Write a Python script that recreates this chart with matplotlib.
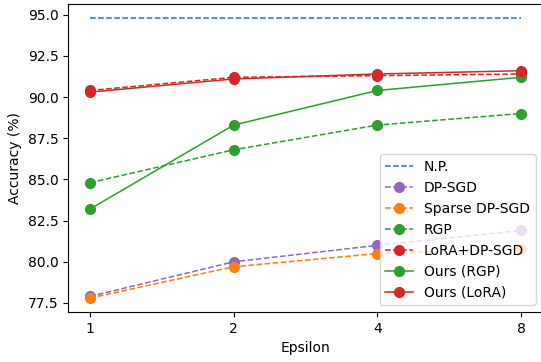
import matplotlib.pyplot as plt

epsilons = ["1", "2", "4", "8"]

np_acc = [94.8, 94.8, 94.8, 94.8]
dp_sgd = [77.9, 80.0, 81.0, 81.9]
sparse_dp_sgd = [77.8, 79.7, 80.5, 80.8]
rgp = [84.8, 86.8, 88.3, 89.0]
lora_dp_sgd = [90.4, 91.2, 91.3, 91.4]
ours_rgp = [83.2, 88.3, 90.4, 91.2]
ours_lora = [90.3, 91.1, 91.4, 91.6]


def main() -> None:
    x = list(range(len(epsilons)))
    fig, ax = plt.subplots(figsize=(5.41, 3.62), dpi=100)

    lw = 1.1
    ms = 7
    ax.plot(x, np_acc, linestyle="--", color="tab:blue", label="N.P.", linewidth=lw)
    ax.plot(x, dp_sgd, "o--", color="tab:purple", label="DP-SGD", markersize=ms, linewidth=lw)
    ax.plot(x, sparse_dp_sgd, "o--", color="tab:orange", label="Sparse DP-SGD", markersize=ms, linewidth=lw)
    ax.plot(x, rgp, "o--", color="tab:green", label="RGP", markersize=ms, linewidth=lw)
    ax.plot(x, lora_dp_sgd, "o--", color="tab:red", label="LoRA+DP-SGD", markersize=ms, linewidth=lw)
    ax.plot(x, ours_rgp, "o-", color="tab:green", label="Ours (RGP)", markersize=ms, linewidth=lw)
    ax.plot(x, ours_lora, "o-", color="tab:red", label="Ours (LoRA)", markersize=ms, linewidth=lw)

    ax.set_xticks(x)
    ax.set_xticklabels(epsilons)
    ax.set_yticks([77.5, 80.0, 82.5, 85.0, 87.5, 90.0, 92.5, 95.0])
    ax.set_xlabel("Epsilon")
    ax.set_ylabel("Accuracy (%)")
    ax.legend(loc="lower right")

    fig.subplots_adjust(left=0.1264, right=1.003, top=0.989, bottom=0.138)
    fig.savefig("out.png")
    plt.close(fig)


if __name__ == "__main__":
    main()
